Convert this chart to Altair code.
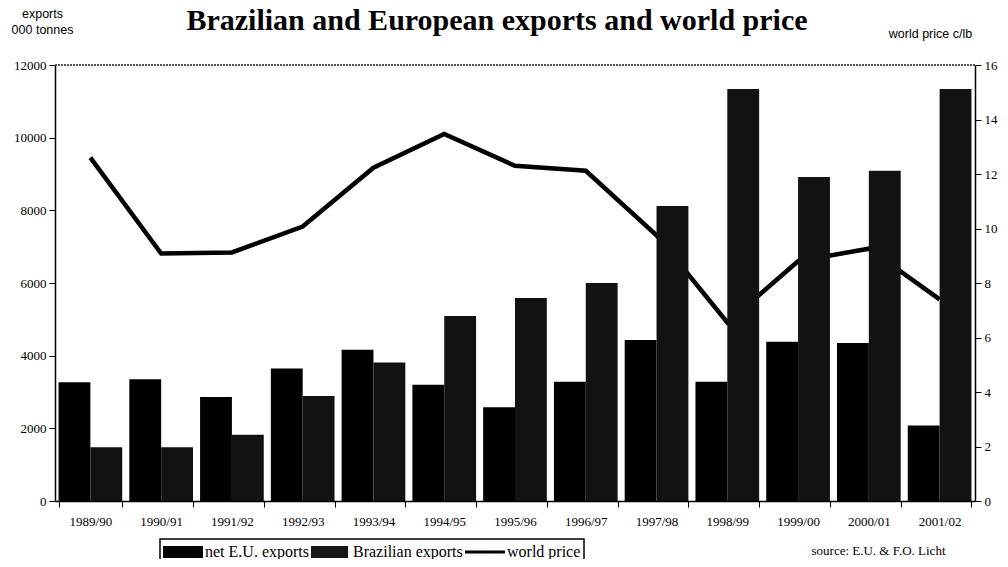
import altair as alt
import pandas as pd

seasons = ["1989/90", "1990/91", "1991/92", "1992/93", "1993/94", "1994/95", "1995/96",
           "1996/97", "1997/98", "1998/99", "1999/00", "2000/01", "2001/02"]
eu_exports = [3270, 3350, 2860, 3650, 4160, 3200, 2580, 3280, 4430, 3280, 4380, 4350, 2080]
brazil_exports = [1480, 1480, 1820, 2890, 3810, 5090, 5590, 6000, 8120, 11340, 8920, 9090, 11340]
world_price = [12.6, 9.08, 9.12, 10.07, 12.23, 13.47, 12.3, 12.12, 9.75, 6.55, 8.8, 9.26, 7.4]
series_names = ["net E.U. exports", "Brazilian exports", "world price"]
left_ticks = [0, 2000, 4000, 6000, 8000, 10000, 12000]
right_ticks = [0, 2, 4, 6, 8, 10, 12, 14, 16]

bars_df = pd.DataFrame({
    "season": seasons * 2,
    "series": [series_names[0]] * len(seasons) + [series_names[1]] * len(seasons),
    "value": eu_exports + brazil_exports,
})
price_df = pd.DataFrame({"season": seasons, "price": world_price})
legend_df = pd.DataFrame({"series": series_names})

x_axis = alt.Axis(
    title="source: E.U. & F.O. Licht", titleFont="Liberation Serif", titleFontSize=13,
    titleFontWeight="normal", titleX=890, titleY=53, titleAlign="right",
    titleBaseline="alphabetic", labelAngle=0, tickBand="extent", tickSize=6,
    labelPadding=8, domainWidth=1.5,
)
x_enc = alt.X("season:N", sort=seasons,
              scale=alt.Scale(paddingInner=0.1, paddingOuter=0.05), axis=x_axis)

bars = alt.Chart(bars_df).mark_bar().encode(
    x=x_enc,
    xOffset=alt.XOffset("series:N", sort=series_names[:2]),
    y=alt.Y("value:Q", scale=alt.Scale(domain=[0, 12000], nice=False),
            axis=alt.Axis(orient="left", values=left_ticks, format="d", tickSize=6,
                          labelPadding=3, domainWidth=1.5,
                          title=["exports", "000 tonnes"], titleAngle=0,
                          titleFont="Liberation Sans", titleFontSize=12.5,
                          titleFontWeight="normal", titleAlign="center",
                          titleBaseline="alphabetic", titleX=-13, titleY=-48,
                          titleLineHeight=16)),
    color=alt.Color("series:N", scale=alt.Scale(domain=series_names[:2],
                                                range=["#000000", "#121212"]),
                    legend=None),
)

top_rule = alt.Chart(bars_df).mark_rule(color="#555555", strokeDash=[2, 1], strokeWidth=1).encode(
    y=alt.datum(12000)
)

legend_spec = alt.Legend(
    orient="none", legendX=105, legendY=474, direction="horizontal", columns=3,
    strokeColor="black", padding=3, labelFont="Liberation Serif",
    labelFontSize=16, labelColor="black", symbolSize=400, columnPadding=2,
    labelOffset=22, symbolOpacity=1, symbolStrokeWidth=0, title=None,
)
points = alt.Chart(legend_df).mark_point(filled=True, opacity=0).encode(
    fill=alt.Fill("series:N", title=None,
                  scale=alt.Scale(domain=series_names, range=["#000000", "#161616", "#000000"]),
                  legend=legend_spec),
    shape=alt.Shape("series:N", title=None,
                    scale=alt.Scale(domain=series_names,
                                    range=["M-1,-0.6H3V0.6H-1Z", "M-1,-0.6H2.7V0.6H-1Z",
                                           "M-1,-0.16H3V0.16H-1Z"]),
                    legend=legend_spec),
)

line = alt.Chart(price_df).mark_line(color="black", strokeWidth=4.5).encode(
    x=x_enc,
    y=alt.Y("price:Q", scale=alt.Scale(domain=[0, 16], nice=False),
            axis=alt.Axis(orient="right", values=right_ticks, tickSize=6, labelPadding=3,
                          domainWidth=1.5, title="world price c/lb", titleAngle=0,
                          titleFont="Liberation Sans", titleFontSize=12.5,
                          titleFontWeight="normal", titleAlign="center",
                          titleBaseline="alphabetic", titleX=-45, titleY=-28)),
)

left_layer = alt.layer(top_rule, bars, points)

chart = alt.layer(line, left_layer).resolve_scale(y="independent").properties(
    width=920, height=436,
    autosize=alt.AutoSizeParams(type="none"),
    padding={"left": 47, "top": 57, "right": 24, "bottom": 58},
    title=alt.Title("Brazilian and European exports and world price",
                    font="Liberation Serif", fontSize=30, fontWeight="bold",
                    color="black", anchor="middle", frame="group", dx=-18,
                    baseline="alphabetic", offset=-53),
).configure_view(strokeWidth=0).configure_axis(
    labelFont="Liberation Serif", labelFontSize=13, labelColor="black",
    domainColor="black", tickColor="black", grid=False, titleColor="black",
).configure_legend(strokeWidth=1.5)

chart.save("out.html", embed_options={"renderer": "svg", "actions": False})
